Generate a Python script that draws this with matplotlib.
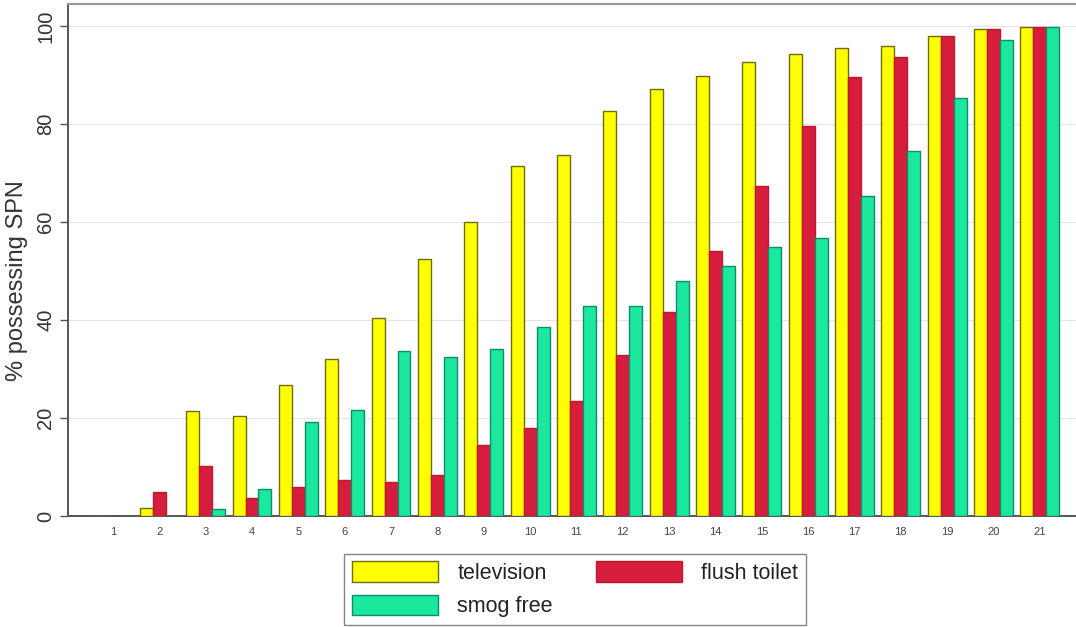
"""Grouped bar chart: share of households possessing each item, by group 1-21."""

import numpy as np
import matplotlib

matplotlib.use("Agg")
import matplotlib.pyplot as plt

plt.rcParams["font.family"] = ["Liberation Sans", "DejaVu Sans"]

groups = [str(i) for i in range(1, 22)]
television = [0, 1.6, 21.5, 20.5, 26.8, 32.0, 40.5, 52.5, 60.0, 71.5, 73.7,
              82.6, 87.2, 89.8, 92.6, 94.3, 95.5, 96.0, 97.9, 99.3, 99.9]
flush_toilet = [0, 5.0, 10.2, 3.6, 6.0, 7.3, 7.0, 8.3, 14.5, 18.0, 23.5,
                32.8, 41.7, 54.0, 67.3, 79.6, 89.7, 93.7, 97.9, 99.3, 99.9]
smog_free = [0, 0, 1.5, 5.5, 19.2, 21.7, 33.6, 32.4, 34.0, 38.5, 42.8,
             42.8, 47.9, 51.0, 55.0, 56.7, 65.4, 74.5, 85.3, 97.2, 99.9]
y_ticks = [0, 20, 40, 60, 80, 100]

series = [
    ("television", television, "#ffff00", "#6e6e10"),
    ("flush toilet", flush_toilet, "#d61e3c", "#c0182f"),
    ("smog free", smog_free, "#1ae89c", "#138a70"),
]

fig = plt.figure(figsize=(10.76, 6.27), dpi=100)
ax = fig.add_axes([68 / 1076, 1 - 516 / 627, 1 - 68 / 1076, 512 / 627])

x = np.arange(1, len(groups) + 1)
width = 0.28
for i, (name, vals, face, edge) in enumerate(series):
    ax.bar(x + (i - 1) * width, vals, width, color=face, edgecolor=edge,
           linewidth=1.0, label=name, zorder=3)

ax.set_xlim(0.03, 21.78)
ax.set_ylim(0, 104.5)
ax.set_xticks(x)
ax.set_xticklabels(groups, fontsize=8, color="#444444")
ax.tick_params(axis="x", length=0, pad=8)
ax.set_yticks(y_ticks)
ax.set_yticklabels([str(t) for t in y_ticks], rotation=90, va="center",
                   fontsize=14.5, color="#333333")
ax.tick_params(axis="y", length=6, width=1, color="#555555", pad=3)
ax.set_ylabel("% possessing SPN", fontsize=17, color="#333333")
ax.yaxis.set_label_coords(-0.040, 0.46)
ax.yaxis.grid(True, color="#e4e4e4", linewidth=0.8, zorder=0)

for side in ("left", "bottom"):
    ax.spines[side].set_color("#555555")
    ax.spines[side].set_linewidth(1.4)
ax.spines["top"].set_color("#999999")
ax.spines["top"].set_linewidth(1.6)
ax.spines["right"].set_visible(False)

handles, labels = ax.get_legend_handles_labels()
order = [0, 2, 1]
leg = fig.legend([handles[k] for k in order], [labels[k] for k in order],
                 loc="upper center", bbox_to_anchor=(575 / 1076, 1 - 543 / 627),
                 ncol=2, fontsize=15.5, handlelength=4.0, handleheight=1.1,
                 columnspacing=2.0, handletextpad=0.9, labelspacing=0.5,
                 borderpad=0.35, frameon=True, fancybox=False,
                 edgecolor="#666666", labelcolor="#222222")
leg.get_frame().set_linewidth(1.0)

fig.savefig("out.png", dpi=100)
